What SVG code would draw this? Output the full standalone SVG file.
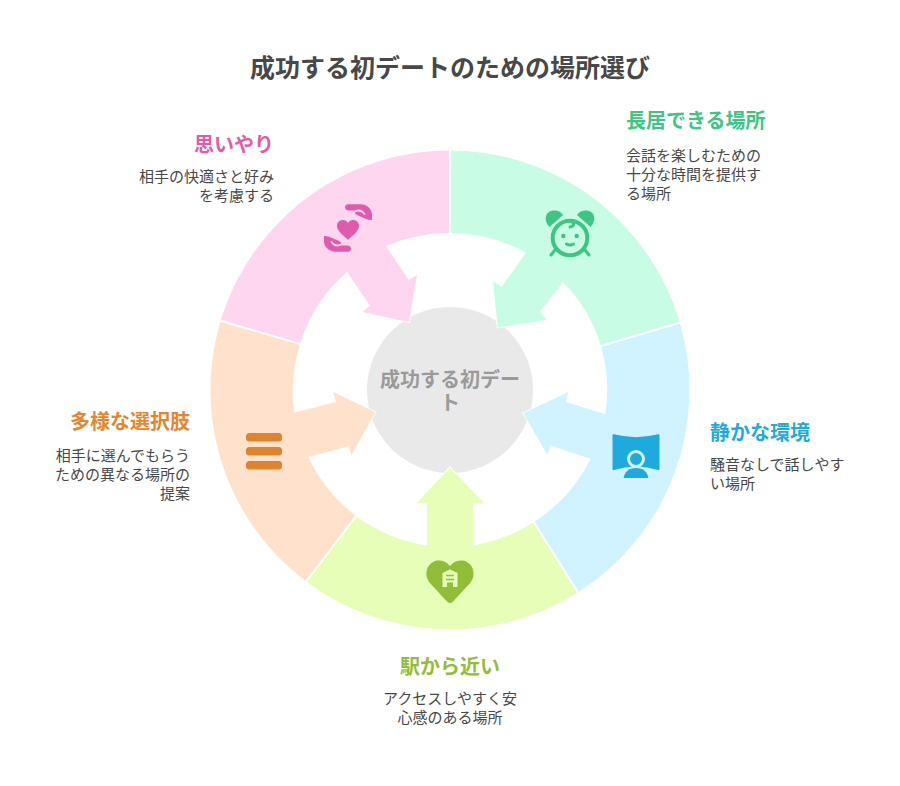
<svg xmlns="http://www.w3.org/2000/svg" width="900" height="786" viewBox="0 0 900 786">
<style>
text{font-family:"Noto Sans CJK JP","Liberation Sans",sans-serif}
.title{font-size:25px;font-weight:700;fill:#484848;text-anchor:middle}
.h{font-size:20px;font-weight:700}
.b{font-size:15px;fill:#484848}
.e{text-anchor:end}.m{text-anchor:middle}
.head{stroke:#fff;stroke-width:2;stroke-linejoin:miter;paint-order:stroke}
.sep{stroke:#fff;stroke-width:2;fill:none}
</style>
<defs>
<g id="hand"><path fill="#df5bac" d="M348 204.300L360 204.300C367 204.300 372 209 372 215L372 220C370 220 367 219.500 365 218.500L358 215.500C355 214.500 354 212.500 355 210.500L348 210.500C344 210 344 204.300 348 204.300Z"/>
<path fill="none" stroke="#ffd6f0" stroke-width="1.800" stroke-linecap="round" d="M354 212C358 209.500 362 210.500 364.500 214"/></g>
</defs>
<rect width="900" height="786" fill="#fff"/>
<text class="title" x="450" y="77">成功する初デートのための場所選び</text>
<g id="connectors">
<path fill="#c8fce5" d="M450 150A240 240 0 0 1 680 322.500L601 346A157 157 0 0 0 563 281.700L540 311.700L546.700 320L497.700 327.300L493 281.300L501.700 286.700L526 252.700A157 157 0 0 0 450 233Z"/>
<path fill="#d0f3ff" d="M680 322.500A240 240 0 0 1 578 592.500L534 522A157 157 0 0 0 590.700 458.700L550.700 445.700L547.300 454.700L523.300 413.300L568.300 392L565.700 401.700L605.300 414.300A157 157 0 0 0 601 346Z"/>
<path fill="#e6feb8" d="M578 592.500A240 240 0 0 1 306 581.500L356 516A157 157 0 0 0 427 545.500L427 503L416.700 503L450 467.700L484 503L473 503L473 545.500A157 157 0 0 0 534 522Z"/>
<path fill="#ffe1cc" d="M306 581.500A240 240 0 0 1 220 320.500L300 344A157 157 0 0 0 294.300 412.700L336 402L333.300 392L375.300 412.300L351.300 455.300L349 446L308.300 457A157 157 0 0 0 356 516Z"/>
<path fill="#ffd6f0" d="M220 320.500A240 240 0 0 1 450 150L450 233A157 157 0 0 0 386 246L408.700 280L417 275L409 322L362.700 312L370 305.700L347 271.700A157 157 0 0 0 300 344Z"/>
<path class="sep" d="M450 148V234M682 322L600 346.300M579 594L533.500 521.500M305 583L356.500 515.500M218 320L301 344.300"/>
<circle class="sep" cx="450" cy="390" r="240.500"/>
</g>
<g id="center">
<circle cx="450" cy="390" r="83" fill="#e9e9e9"/>
</g>
<g id="connectors-over">
<path class="head" fill="#c8fce5" d="M540 311.700L546.700 320L497.700 327.300L493 281.300L501.700 286.700"/>
<path class="head" fill="#d0f3ff" d="M550.700 445.700L547.300 454.700L523.300 413.300L568.300 392L565.700 401.700"/>
<path class="head" fill="#e6feb8" d="M427 503L416.700 503L450 467.700L484 503L473 503"/>
<path class="head" fill="#ffe1cc" d="M336 402L333.300 392L375.300 412.300L351.300 455.300L349 446"/>
<path class="head" fill="#ffd6f0" d="M408.700 280L417 275L409 322L362.700 312L370 305.700"/>
</g>
<text class="h m" fill="#9a9a9a"><tspan x="450" y="387">成功する初デー</tspan><tspan x="450" y="410">ト</tspan></text>

<g id="node-long">
<text class="h" x="626" y="128" fill="#3cc583">長居できる場所</text>
<text class="b"><tspan x="626" y="161">会話を楽しむための</tspan><tspan x="626" y="180">十分な時間を提供す</tspan><tspan x="626" y="199">る場所</tspan></text>
<circle cx="570" cy="238" r="17.300" fill="none" stroke="#3cc583" stroke-width="4"/>
<path fill="#3cc583" d="M549.500 227C544.500 222 544.500 215 549 212C553 209.500 560 210 563 215Z"/>
<path fill="#3cc583" d="M590.500 227C595.500 222 595.500 215 591 212C587 209.500 580 210 577 215Z"/>
<circle cx="563.300" cy="236" r="2.200" fill="#3cc583"/><circle cx="576.700" cy="236" r="2.200" fill="#3cc583"/>
<path fill="none" stroke="#3cc583" stroke-width="3" stroke-linecap="round" d="M566.500 244Q570 246 573.500 244M570 221C575 222 575 226 570 227M555 250L551 255M585 250L589 255"/>
</g>
<g id="node-quiet">
<text class="h" x="710" y="440" fill="#1eaadc">静かな環境</text>
<text class="b"><tspan x="710" y="470">騒音なしで話しやす</tspan><tspan x="710" y="489">い場所</tspan></text>
<path fill="#1eaadc" d="M612.500 435.500Q612.500 434 614 434.300Q636 440 658 434.300Q659.500 434 659.500 435.500L659.500 469Q659.500 470.500 658 470Q636 463 614 470Q612.500 470.500 612.500 469Z"/>
<path fill="#1eaadc" stroke="#d0f3ff" stroke-width="2" d="M622.500 479Q624 467 636 467Q648 467 649.500 479Z"/>
<circle cx="636" cy="459" r="7.500" fill="#1eaadc" stroke="#d0f3ff" stroke-width="3"/>
</g>
<g id="node-station">
<text class="h m" x="450" y="674" fill="#92bd39">駅から近い</text>
<text class="b m"><tspan x="450" y="704">アクセスしやすく安</tspan><tspan x="450" y="723">心感のある場所</tspan></text>
<path fill="#92bd39" d="M450 566C445 560 438 559.500 433 562C426 566 424.500 575 429 582L447 601.500Q450 604.500 453 601.500L471 582C475.500 575 474 566 467 562C462 559.500 455 560 450 566Z"/>
<path fill="#e6feb8" d="M442.500 573L450 569.500L457.500 573L457.500 587L453 587L453 582.500L447 582.500L447 587L442.500 587Z"/>
<path fill="none" stroke="#92bd39" stroke-width="1.500" d="M446 575.500H454M446 579.500H454"/>
</g>
<g id="node-choice">
<text class="h e" x="190" y="429" fill="#e5862f">多様な選択肢</text>
<text class="b e"><tspan x="190" y="461">相手に選んでもらう</tspan><tspan x="190" y="480">ための異なる場所の</tspan><tspan x="190" y="499">提案</tspan></text>
<g fill="#e0832f"><rect x="246" y="433" width="36" height="8.500" rx="3.500"/><rect x="246" y="447" width="36" height="8.500" rx="3.500"/><rect x="246" y="461" width="36" height="8.500" rx="3.500"/></g>
</g>
<g id="node-care">
<text class="h e" x="274" y="152" fill="#df5bac">思いやり</text>
<text class="b e"><tspan x="274" y="182">相手の快適さと好み</tspan><tspan x="274" y="201">を考慮する</tspan></text>
<path fill="#df5bac" d="M348 240C346 237 337 232 337 226C337 222 340 220 343 220C345 220 347 221 348 223C349 221 351 220 353 220C356 220 359 222 359 226C359 232 350 237 348 240Z"/>
<use href="#hand"/>
<use href="#hand" transform="rotate(180 348 228)"/>
</g>
</svg>
